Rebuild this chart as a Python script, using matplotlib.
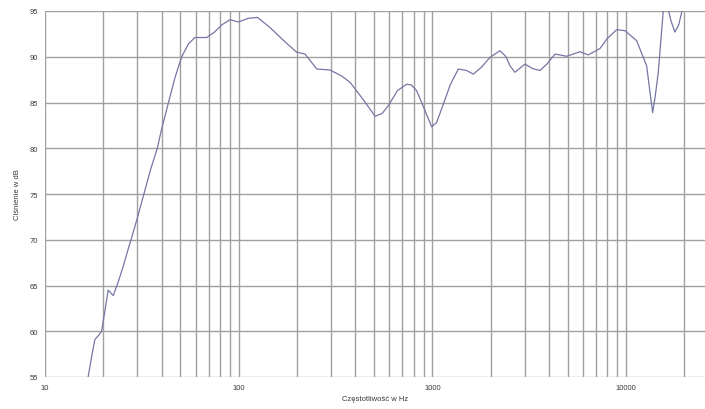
import matplotlib
matplotlib.use("Agg")
import matplotlib.pyplot as plt

freq = [16.3, 16.7, 17.5, 18.1, 19.0, 19.6, 20.3, 21.2, 22.5, 23.9, 25.5, 26.9, 27.8, 30, 32.4, 35, 38, 40,
        43.4, 47, 50.8, 55, 59.4, 64, 68.4, 75, 82, 90.2, 99.6, 112, 125, 145, 170, 199, 220,
        253, 296, 340, 376, 440, 506, 550, 592, 660, 736, 780, 829, 900, 991, 1050, 1116,
        1240, 1361, 1500, 1627, 1800, 1983, 2233, 2400, 2517, 2667, 3005, 3300, 3593, 3900,
        4296, 4936, 5779, 6380, 7330, 8000, 8940, 9860, 11340, 12770, 13400, 13710, 14100,
        14660, 15550, 16000, 17000, 17860, 18700, 19360, 20500]
spl = [54.0, 55.0, 57.5, 59.1, 59.6, 60.0, 62.0, 64.5, 63.9, 65.4, 67.3, 69.0, 70.0, 72.4, 75.0, 77.6, 80.0, 82.1,
       85.0, 87.8, 90.0, 91.4, 92.1, 92.1, 92.1, 92.7, 93.5, 94.05, 93.8, 94.2, 94.3, 93.2, 91.8, 90.5, 90.3,
       88.66, 88.55, 87.9, 87.2, 85.3, 83.5, 83.8, 84.65, 86.3, 87.0, 86.9, 86.3, 84.5, 82.35, 82.8, 84.3,
       87.0, 88.66, 88.5, 88.1, 88.9, 89.94, 90.66, 90.0, 89.0, 88.3, 89.2, 88.7, 88.5, 89.2,
       90.3, 90.05, 90.55, 90.2, 90.9, 92.0, 92.96, 92.85, 91.75, 89.0, 85.5, 83.9, 85.5,
       88.3, 95.0, 96.5, 94.0, 92.7, 93.5, 94.85, 97.0]

x_ticks = [10, 100, 1000, 10000]
x_tick_labels = ["10", "100", "1000", "10000"]
y_ticks = [55, 60, 65, 70, 75, 80, 85, 90, 95]
x_grid = [m * 10 ** d for d in range(1, 4) for m in range(2, 11)] + [20000]

plt.rcParams['font.family'] = ['Liberation Sans', 'DejaVu Sans']

fig = plt.figure(figsize=(7.05, 4.10), dpi=100)
ax = fig.add_axes([45 / 705, 1 - 378 / 410, 660 / 705, 366 / 410])
ax.set_xscale('log')
ax.set_xlim(10, 10 ** (1 + 660 / 193.7))
ax.set_ylim(55, 95)

gc = '#a0a0a0'
for xv in x_grid:
    ax.axvline(xv, color=gc, lw=1.0, zorder=1)
for yv in y_ticks:
    ax.axhline(yv, color=gc, lw=1.0, zorder=1)
ax.axvline(10, color=gc, lw=1.0, zorder=1)

ax.plot(freq, spl, color='#7676a6', lw=0.9, zorder=3, clip_on=True)

for s in ax.spines.values():
    s.set_visible(False)
ax.set_xticks(x_ticks)
ax.set_xticklabels(x_tick_labels)
ax.xaxis.set_minor_locator(matplotlib.ticker.NullLocator())
ax.set_yticks(y_ticks)
ax.tick_params(length=0, labelsize=5.5, colors='#3a3a3a', pad=5)
ax.set_xlabel('Częstotliwość w Hz', fontsize=5.5, color='#3a3a3a', labelpad=3)
ax.set_ylabel('Ciśnienie w dB', fontsize=5.5, color='#3a3a3a', labelpad=6)

fig.savefig('out.png', dpi=100)
